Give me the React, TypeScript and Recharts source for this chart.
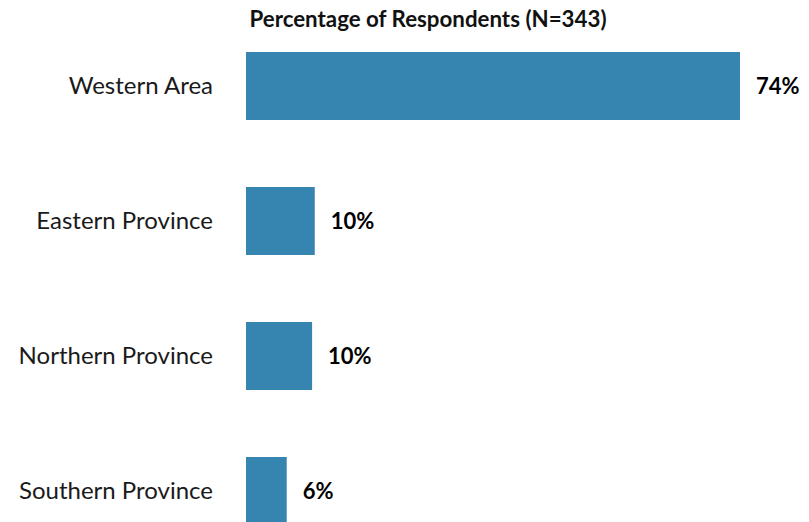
import React from "react";
import { BarChart, Bar, XAxis, YAxis, LabelList, Customized } from "recharts";

const regions = ["Western Area", "Eastern Province", "Northern Province", "Southern Province"];
const percentages = [74, 10.3, 9.9, 6.1];
const chartTitle = "Percentage of Respondents (N=343)";

const data = regions.map((region, i) => ({ region, value: percentages[i] }));

const FONT = "Lato, 'Noto Sans', sans-serif";

const Title = () => (
  <text
    x={420}
    y={27}
    textAnchor="middle"
    fontFamily={FONT}
    fontWeight={700}
    fontSize={22.3}
    fill="#111"
  >
    {chartTitle}
  </text>
);

export default function App() {
  return (
    <div
      style={{
        position: "absolute",
        left: 8,
        top: 0,
        width: 801,
        height: 522,
        overflow: "hidden",
      }}
    >
      <BarChart
        width={801}
        height={570}
        data={data}
        layout="vertical"
        margin={{ top: 18, right: 69, bottom: 12, left: 0 }}
        barCategoryGap={0}
      >
        <XAxis type="number" domain={[0, 74]} hide />
        <YAxis
          type="category"
          dataKey="region"
          width={238}
          axisLine={false}
          tickLine={false}
          tickSize={0}
          tickMargin={33}
          tick={{ fontFamily: FONT, fontSize: 24, fill: "#1a1a1a" }}
        />
        <Bar dataKey="value" fill="#3585b0" barSize={68} isAnimationActive={false}>
          <LabelList
            dataKey="value"
            position="right"
            offset={16}
            formatter={(v: number) => `${Math.round(v)}%`}
            style={{ fontFamily: FONT, fontSize: 22, fontWeight: 700, fill: "#000" }}
          />
        </Bar>
        <Customized component={Title} />
      </BarChart>
    </div>
  );
}
